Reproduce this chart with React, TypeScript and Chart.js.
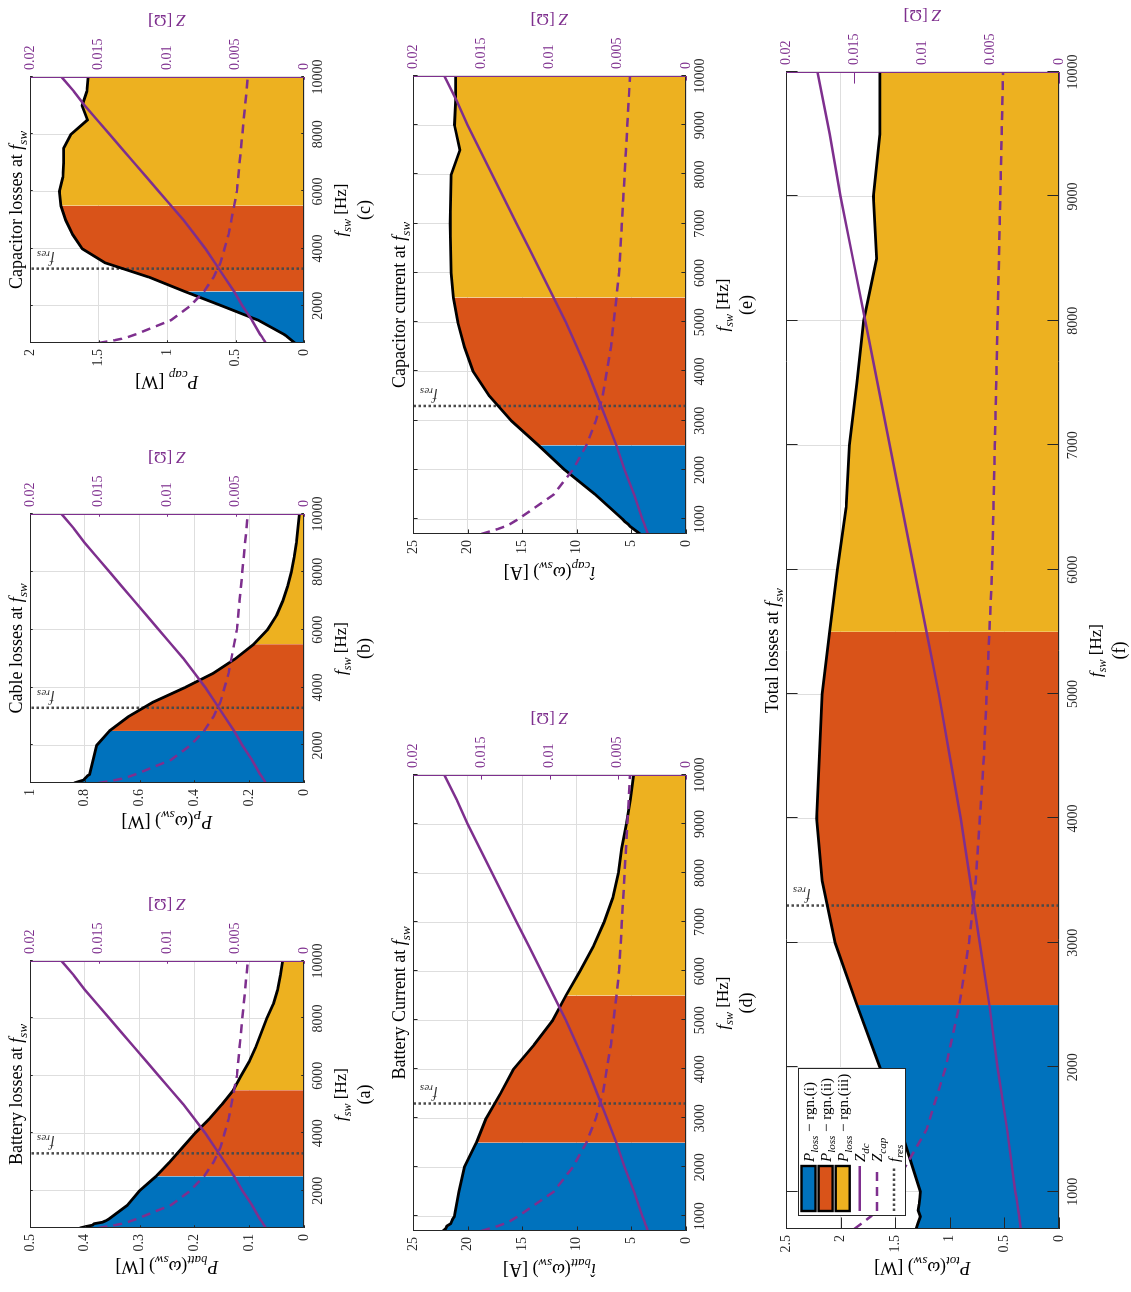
import React, { useEffect, useRef } from 'react';
import { Chart, registerables } from 'chart.js';

Chart.register(...registerables);

const FONT = '"Liberation Serif", "Times New Roman", serif';
const INK = '#262626';
const PURPLE = '#7E2F8E';
const BLUE = '#0072BD';
const ORANGE = '#D95319';
const YELLOW = '#EDB120';
const GRID = '#dedede';
const DOT = '#4a4a4a';

// ---------------- data ----------------
const freqHz = [700, 750, 800, 850, 900, 950, 1000, 1500, 2000, 2500, 3000, 3500, 4000, 4500, 5000, 5500, 6000, 6500, 7000, 7500, 8000, 8500, 9000, 9500, 10000];
const batteryLossW = [0.409, 0.398, 0.386, 0.383, 0.368, 0.362, 0.357, 0.322, 0.300, 0.270, 0.245, 0.222, 0.199, 0.173, 0.150, 0.129, 0.115, 0.100, 0.088, 0.078, 0.068, 0.056, 0.048, 0.043, 0.039];
const cableLossW = [0.839, 0.822, 0.805, 0.800, 0.795, 0.790, 0.782, 0.770, 0.757, 0.710, 0.640, 0.550, 0.435, 0.330, 0.250, 0.183, 0.133, 0.100, 0.077, 0.060, 0.046, 0.036, 0.028, 0.022, 0.017];
const capacitorLossW = [0.066, 0.079, 0.092, 0.105, 0.118, 0.131, 0.145, 0.335, 0.600, 0.870, 1.130, 1.450, 1.620, 1.690, 1.740, 1.775, 1.785, 1.760, 1.755, 1.755, 1.700, 1.580, 1.620, 1.585, 1.575];
const batteryCurrentA = [22.25, 22.0, 21.9, 21.55, 21.45, 21.35, 21.2, 20.8, 20.3, 19.2, 18.3, 17.0, 15.8, 13.9, 12.2, 11.0, 9.7, 8.5, 7.5, 6.7, 6.2, 5.9, 5.45, 5.1, 4.8];
const capacitorCurrentA = [4.2, 4.5, 4.8, 5.1, 5.3, 5.6, 5.8, 8.3, 11.1, 13.5, 16.0, 18.0, 19.5, 20.3, 20.9, 21.3, 21.5, 21.55, 21.6, 21.55, 21.5, 20.7, 21.2, 21.1, 21.1];
const totalLossW = [1.31, 1.29, 1.27, 1.29, 1.28, 1.275, 1.27, 1.45, 1.64, 1.85, 2.05, 2.17, 2.22, 2.195, 2.17, 2.10, 2.03, 1.95, 1.92, 1.85, 1.79, 1.67, 1.70, 1.64, 1.64];
const zDcOhm = [0.0028, 0.00286, 0.00292, 0.00299, 0.00305, 0.00312, 0.0032, 0.0038, 0.0045, 0.0051, 0.0058, 0.0065, 0.0072, 0.0080, 0.0088, 0.0097, 0.0106, 0.0115, 0.0124, 0.0133, 0.0142, 0.0151, 0.0160, 0.0168, 0.0177];
const zCapOhm = [0.0150, 0.0144, 0.0138, 0.0133, 0.0129, 0.0126, 0.0123, 0.0097, 0.0083, 0.0073, 0.0066, 0.0061, 0.0058, 0.0055, 0.0053, 0.0051, 0.0049, 0.0048, 0.0047, 0.0046, 0.0045, 0.0044, 0.0043, 0.0042, 0.0041];
const regionEdgesHz = [700, 2500, 5500, 10000];
const regionColors = [BLUE, ORANGE, YELLOW];
const fResHz = 3300;
const fMinHz = 700;
const fMaxHz = 10000;

const xTicksCoarse = [2000, 4000, 6000, 8000, 10000];
const xTicksFine = [1000, 2000, 3000, 4000, 5000, 6000, 7000, 8000, 9000, 10000];
const ticksBattLoss = [0, 0.1, 0.2, 0.3, 0.4, 0.5];
const ticksCableLoss = [0, 0.2, 0.4, 0.6, 0.8, 1];
const ticksCapLoss = [0, 0.5, 1, 1.5, 2];
const ticksCurrent = [0, 5, 10, 15, 20, 25];
const ticksTotalLoss = [0, 0.5, 1, 1.5, 2, 2.5];
const ticksZ = [0, 0.005, 0.01, 0.015, 0.02];

// ---------------- rich text helpers ----------------
type Seg = { t: string; it?: boolean; sub?: boolean };
const fsw: Seg[] = [{ t: 'f', it: true }, { t: 'sw', it: true, sub: true }];
const wsw: Seg[] = [{ t: '(' }, { t: 'ω', it: true }, { t: 'sw', it: true, sub: true }];

function segFont(s: Seg, size: number) {
  const sz = s.sub ? Math.round(size * 0.72) : size;
  return `${s.it ? 'italic ' : ''}${sz}px ${FONT}`;
}
function richWidth(ctx: CanvasRenderingContext2D, segs: Seg[], size: number) {
  let w = 0;
  for (const s of segs) {
    ctx.font = segFont(s, size);
    w += ctx.measureText(s.t).width;
  }
  return w;
}
function drawRich(ctx: CanvasRenderingContext2D, segs: Seg[], x: number, y: number, size: number, color: string, align: string) {
  const w = richWidth(ctx, segs, size);
  let cx = align === 'center' ? x - w / 2 : align === 'right' ? x - w : x;
  ctx.fillStyle = color;
  ctx.textAlign = 'left';
  ctx.textBaseline = 'alphabetic';
  for (const s of segs) {
    ctx.font = segFont(s, size);
    ctx.fillText(s.t, cx, y + (s.sub ? size * 0.27 : 0));
    cx += ctx.measureText(s.t).width;
  }
}
function drawRichRot(ctx: CanvasRenderingContext2D, segs: Seg[], x: number, y: number, size: number, color: string, align: string) {
  ctx.save();
  ctx.translate(x, y);
  ctx.rotate(-Math.PI / 2);
  drawRich(ctx, segs, 0, 0, size, color, align);
  ctx.restore();
}
function seg(ctx: CanvasRenderingContext2D, x0: number, y0: number, x1: number, y1: number) {
  ctx.beginPath();
  ctx.moveTo(x0, y0);
  ctx.lineTo(x1, y1);
  ctx.stroke();
}

const legendRows = [
  { kind: 'patch', color: BLUE, dash: [] as number[], label: [{ t: 'P', it: true }, { t: 'loss', it: true, sub: true }, { t: ' − rgn.(i)' }] },
  { kind: 'patch', color: ORANGE, dash: [] as number[], label: [{ t: 'P', it: true }, { t: 'loss', it: true, sub: true }, { t: ' − rgn.(ii)' }] },
  { kind: 'patch', color: YELLOW, dash: [] as number[], label: [{ t: 'P', it: true }, { t: 'loss', it: true, sub: true }, { t: ' − rgn.(iii)' }] },
  { kind: 'line', color: PURPLE, dash: [] as number[], label: [{ t: 'Z', it: true }, { t: 'dc', it: true, sub: true }] },
  { kind: 'line', color: PURPLE, dash: [9, 6], label: [{ t: 'Z', it: true }, { t: 'cap', it: true, sub: true }] },
  { kind: 'dot', color: DOT, dash: [2.5, 2.5], label: [{ t: 'f', it: true }, { t: 'res', it: true, sub: true }] },
];

type Panel = {
  tag: string;
  box: number[];
  values: number[];
  yTicks: number[];
  xTicks: number[];
  title: Seg[];
  ylabel: Seg[];
  legend?: boolean;
};

const panels: Panel[] = [
  { tag: 'a', box: [64, 30, 331, 304], values: batteryLossW, yTicks: ticksBattLoss, xTicks: xTicksCoarse,
    title: [{ t: 'Battery losses at ' }, ...fsw],
    ylabel: [{ t: 'P', it: true }, { t: 'batt', it: true, sub: true }, ...wsw, { t: ') [W]' }] },
  { tag: 'b', box: [509, 30, 778, 304], values: cableLossW, yTicks: ticksCableLoss, xTicks: xTicksCoarse,
    title: [{ t: 'Cable losses at ' }, ...fsw],
    ylabel: [{ t: 'P', it: true }, { t: 'P', it: true, sub: true }, ...wsw, { t: ') [W]' }] },
  { tag: 'c', box: [949, 30, 1215, 304], values: capacitorLossW, yTicks: ticksCapLoss, xTicks: xTicksCoarse,
    title: [{ t: 'Capacitor losses at ' }, ...fsw],
    ylabel: [{ t: 'P', it: true }, { t: 'cap', it: true, sub: true }, { t: ' [W]' }] },
  { tag: 'd', box: [61, 413, 517, 686], values: batteryCurrentA, yTicks: ticksCurrent, xTicks: xTicksFine,
    title: [{ t: 'Battery Current at ' }, ...fsw],
    ylabel: [{ t: 'î', it: true }, { t: 'batt', it: true, sub: true }, ...wsw, { t: ') [A]' }] },
  { tag: 'e', box: [758, 413, 1216, 686], values: capacitorCurrentA, yTicks: ticksCurrent, xTicks: xTicksFine,
    title: [{ t: 'Capacitor current at ' }, ...fsw],
    ylabel: [{ t: 'î', it: true }, { t: 'cap', it: true, sub: true }, ...wsw, { t: ') [A]' }] },
  { tag: 'f', box: [63, 786, 1220, 1059], values: totalLossW, yTicks: ticksTotalLoss, xTicks: xTicksFine,
    title: [{ t: 'Total losses at ' }, ...fsw],
    ylabel: [{ t: 'P', it: true }, { t: 'tot', it: true, sub: true }, ...wsw, { t: ') [W]' }], legend: true },
];

const LEFT = 64;
const RIGHT = 80;
const TOP = 30;
const BOTTOM = 80;

const fmt = (v: number) => String(parseFloat(Number(v).toFixed(4)));

function makeDeco(p: Panel) {
  return {
    id: 'deco_' + p.tag,
    beforeDatasetsDraw(chart: any) {
      const { ctx, chartArea: a, scales } = chart;
      const tl = 0.01 * Math.max(a.right - a.left, a.bottom - a.top);
      ctx.save();
      ctx.strokeStyle = PURPLE;
      ctx.lineWidth = 1;
      for (const v of ticksZ) {
        const y = Math.round(scales.y2.getPixelForValue(v)) + 0.5;
        seg(ctx, a.right - tl, y, a.right, y);
      }
      ctx.restore();
    },
    afterDatasetsDraw(chart: any) {
      const { ctx, chartArea: a, scales } = chart;
      const tl = 0.01 * Math.max(a.right - a.left, a.bottom - a.top);
      ctx.save();
      ctx.strokeStyle = INK;
      ctx.lineWidth = 1;
      for (const v of p.xTicks) {
        const x = Math.round(scales.x.getPixelForValue(v)) + 0.5;
        seg(ctx, x, a.bottom, x, a.bottom - tl);
        seg(ctx, x, a.top, x, a.top + tl);
      }
      for (const v of p.yTicks) {
        const y = Math.round(scales.y.getPixelForValue(v)) + 0.5;
        seg(ctx, a.left, y, a.left + tl, y);
      }
      const L = Math.round(a.left) + 0.5, R = Math.round(a.right) - 0.5;
      const T = Math.round(a.top) + 0.5, B = Math.round(a.bottom) - 0.5;
      seg(ctx, L, T, R, T);
      seg(ctx, L, B, R, B);
      seg(ctx, L, T, L, B);
      ctx.strokeStyle = PURPLE;
      seg(ctx, R, T, R, B);
      // f_res label
      const xr = scales.x.getPixelForValue(fResHz);
      drawRichRot(ctx, [{ t: 'f', it: true }, { t: 'res', it: true, sub: true }], xr + 14, a.top + 7, 15, '#333', 'right');
      ctx.restore();
    },
    afterDraw(chart: any) {
      const { ctx, chartArea: a } = chart;
      const cx = (a.left + a.right) / 2;
      const cy = (a.top + a.bottom) / 2;
      ctx.save();
      drawRich(ctx, p.title, cx, a.top - 8, 18, '#000', 'center');
      drawRich(ctx, [...fsw, { t: ' [Hz]' }], cx, a.bottom + 42, 17, '#000', 'center');
      drawRich(ctx, [{ t: '(' + p.tag + ')' }], cx, a.bottom + 66, 18, '#000', 'center');
      drawRichRot(ctx, p.ylabel, a.left - 33, cy, 18, '#000', 'center');
      drawRichRot(ctx, [{ t: 'Z', it: true }, { t: ' [Ω]' }], a.right + 62, cy, 17, PURPLE, 'center');
      if (p.legend) {
        const x0 = Math.round(a.left + 13) + 0.5, y0 = Math.round(a.top + 12) + 0.5;
        ctx.fillStyle = '#fff';
        ctx.fillRect(x0, y0, 147, 107);
        ctx.strokeStyle = INK;
        ctx.lineWidth = 1;
        ctx.strokeRect(x0, y0, 147, 107);
        legendRows.forEach((row, i) => {
          const ry = a.top + 22.5 + i * 17.1;
          const ix0 = a.left + 18, ix1 = a.left + 63;
          if (row.kind === 'patch') {
            ctx.fillStyle = row.color;
            ctx.fillRect(ix0, ry - 7, ix1 - ix0, 14);
            ctx.strokeStyle = '#000';
            ctx.lineWidth = 2.4;
            ctx.strokeRect(ix0, ry - 7, ix1 - ix0, 14);
          } else {
            ctx.strokeStyle = row.color;
            ctx.lineWidth = 2.5;
            ctx.setLineDash(row.dash);
            seg(ctx, ix0, ry, ix1, ry);
            ctx.setLineDash([]);
          }
          drawRich(ctx, row.label as Seg[], a.left + 67, ry + 5, 15, '#000', 'left');
        });
      }
      ctx.restore();
    },
  };
}

function buildConfig(p: Panel): any {
  const pts = (arr: number[]) => freqHz.map((f, i) => ({ x: f, y: arr[i] }));
  const yMax = p.yTicks[p.yTicks.length - 1];
  const fills = regionColors.map((c, k) => ({
    data: pts(p.values).filter((q) => q.x >= regionEdgesHz[k] && q.x <= regionEdgesHz[k + 1]),
    yAxisID: 'y',
    borderWidth: 0,
    borderColor: c,
    backgroundColor: c,
    fill: 'origin',
    pointRadius: 0,
    order: 10 + k,
  }));
  const tickFont = { family: FONT, size: 14 };
  return {
    type: 'line',
    data: {
      datasets: [
        { data: pts(zDcOhm), yAxisID: 'y2', borderColor: PURPLE, borderWidth: 2.5, pointRadius: 0, fill: false, order: 1 },
        { data: pts(zCapOhm), yAxisID: 'y2', borderColor: PURPLE, borderWidth: 2.5, borderDash: [9, 6], pointRadius: 0, fill: false, order: 2 },
        { data: pts(p.values), yAxisID: 'y', borderColor: '#000', borderWidth: 2.8, borderJoinStyle: 'round', pointRadius: 0, fill: false, order: 3 },
        { data: [{ x: fResHz, y: 0 }, { x: fResHz, y: yMax }], yAxisID: 'y', borderColor: DOT, borderWidth: 2.5, borderDash: [2.5, 2.5], pointRadius: 0, fill: false, order: 4 },
        ...fills,
      ],
    },
    options: {
      responsive: false,
      animation: false,
      devicePixelRatio: 1,
      events: [],
      layout: { padding: { top: TOP, left: 0, right: 0, bottom: 0 } },
      elements: { line: { tension: 0 } },
      plugins: { legend: { display: false }, tooltip: { enabled: false }, title: { display: false } },
      scales: {
        x: {
          type: 'linear',
          min: fMinHz,
          max: fMaxHz,
          afterBuildTicks: (s: any) => { s.ticks = p.xTicks.map((v) => ({ value: v })); },
          afterFit: (s: any) => { s.height = BOTTOM; },
          grid: { color: GRID, lineWidth: 1, drawTicks: false },
          border: { display: false },
          ticks: { font: tickFont, color: INK, padding: 6, maxRotation: 0, autoSkip: false, callback: (v: number) => String(v) },
        },
        y: {
          type: 'linear',
          position: 'left',
          min: 0,
          max: yMax,
          afterBuildTicks: (s: any) => { s.ticks = p.yTicks.map((v) => ({ value: v })); },
          afterFit: (s: any) => { s.width = LEFT; },
          grid: { color: GRID, lineWidth: 1, drawTicks: false },
          border: { display: false },
          ticks: { font: tickFont, color: INK, padding: 6, autoSkip: false, callback: (v: number) => fmt(v) },
        },
        y2: {
          type: 'linear',
          position: 'right',
          min: 0,
          max: 0.02,
          afterBuildTicks: (s: any) => { s.ticks = ticksZ.map((v) => ({ value: v })); },
          afterFit: (s: any) => { s.width = RIGHT; },
          grid: { display: false, drawTicks: false },
          border: { display: false },
          ticks: { font: tickFont, color: PURPLE, padding: 7, autoSkip: false, callback: (v: number) => fmt(v) },
        },
      },
    },
    plugins: [makeDeco(p)],
  };
}

function PanelChart({ p }: { p: Panel }) {
  const ref = useRef<HTMLCanvasElement>(null);
  const [l, t, r, b] = p.box;
  const w = r - l + LEFT + RIGHT;
  const h = b - t + TOP + BOTTOM;
  useEffect(() => {
    const chart = new Chart(ref.current as HTMLCanvasElement, buildConfig(p));
    return () => chart.destroy();
  }, []);
  return (
    <canvas
      ref={ref}
      width={w}
      height={h}
      style={{ position: 'absolute', left: l - LEFT, top: t - TOP, width: w, height: h }}
    />
  );
}

export default function App() {
  useEffect(() => {
    document.body.style.margin = '0';
    document.body.style.overflow = 'hidden';
    document.documentElement.style.overflow = 'hidden';
  }, []);
  return (
    <div
      style={{
        position: 'absolute',
        left: 0,
        top: 0,
        width: 1292,
        height: 1131,
        transformOrigin: '0 0',
        transform: 'translateY(1292px) rotate(-90deg)',
        background: '#fff',
        overflow: 'hidden',
      }}
    >
      {panels.map((p) => (
        <PanelChart key={p.tag} p={p} />
      ))}
    </div>
  );
}
